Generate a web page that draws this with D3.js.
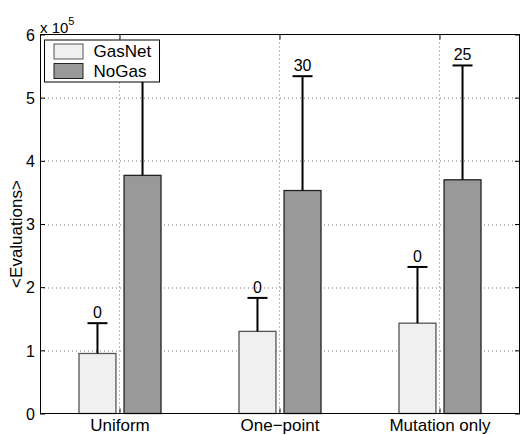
<!DOCTYPE html>
<html>
<head>
<meta charset="utf-8">
<script src="https://cdn.jsdelivr.net/npm/d3@7"></script>
<style>
  body { margin: 0; background: #fff; }
  text { font-family: "Liberation Sans", Arial, Helvetica, sans-serif; }
</style>
</head>
<body>
<div id="my_dataviz"></div>
<script>
// data (evaluations)
const categories = ["Uniform", "One\u2212point", "Mutation only"];
const series = ["GasNet", "NoGas"];
const gasnetMean = [95000, 130000, 143000];
const gasnetUpper = [143000, 183000, 232000];
const nogasMean = [377000, 353000, 370000];
const nogasUpper = [560000, 534000, 551000];
const gasnetLabels = ["0", "0", "0"];
const nogasLabels = [null, "30", "25"];
const yTicks = [0, 100000, 200000, 300000, 400000, 500000, 600000];

const margin = {top: 34.5, right: 0, bottom: 21.5, left: 40},
    width = 520 - margin.left - margin.right,
    height = 435 - margin.top - margin.bottom;

const svg = d3.select("#my_dataviz")
  .append("svg")
    .attr("width", 520)
    .attr("height", 435)
  .append("g")
    .attr("transform", `translate(${margin.left},${margin.top})`);

const x = d3.scaleBand()
  .domain(categories)
  .range([0, width])
  .padding(0);

const x1 = d3.scaleBand()
  .domain(series)
  .range([-41, 41])
  .paddingInner(0.18);

const y = d3.scaleLinear()
  .domain([0, 600000])
  .range([height, 0]);

const color = {GasNet: "#f0f0f0", NoGas: "#999999"};
const edge = {GasNet: "#555555", NoGas: "#222222"};

// build rows from the arrays
const rows = [];
categories.forEach(function(c, i) {
  rows.push({cat: c, s: "GasNet", mean: gasnetMean[i], upper: gasnetUpper[i], label: gasnetLabels[i]});
  rows.push({cat: c, s: "NoGas", mean: nogasMean[i], upper: nogasUpper[i], label: nogasLabels[i]});
});
const cx = d => x(d.cat) + x.bandwidth() / 2 + x1(d.s) + x1.bandwidth() / 2;

// grid
svg.append("g")
  .selectAll("line")
  .data(yTicks.slice(1, -1))
  .join("line")
    .attr("x1", 0).attr("x2", width)
    .attr("y1", d => Math.round(y(d)) + 0.5).attr("y2", d => Math.round(y(d)) + 0.5)
    .attr("stroke", "#777")
    .attr("stroke-dasharray", "1,3");
svg.append("g")
  .selectAll("line")
  .data(categories)
  .join("line")
    .attr("x1", d => Math.round(x(d) + x.bandwidth() / 2) - 0.5)
    .attr("x2", d => Math.round(x(d) + x.bandwidth() / 2) - 0.5)
    .attr("y1", 0).attr("y2", height)
    .attr("stroke", "#777")
    .attr("stroke-dasharray", "1,3");

// bars
svg.append("g")
  .selectAll("rect")
  .data(rows)
  .join("rect")
    .attr("x", d => x(d.cat) + x.bandwidth() / 2 + x1(d.s))
    .attr("y", d => y(d.mean))
    .attr("width", x1.bandwidth())
    .attr("height", d => height - y(d.mean))
    .attr("fill", d => color[d.s])
    .attr("stroke", d => edge[d.s])
    .attr("stroke-width", 1.3);

// error bars (upper only)
const err = svg.append("g");
err.selectAll("line.v")
  .data(rows)
  .join("line")
    .attr("class", "v")
    .attr("x1", cx).attr("x2", cx)
    .attr("y1", d => y(d.mean)).attr("y2", d => y(d.upper))
    .attr("stroke", "#000")
    .attr("stroke-width", 2);
err.selectAll("line.c")
  .data(rows)
  .join("line")
    .attr("class", "c")
    .attr("x1", d => cx(d) - 10).attr("x2", d => cx(d) + 10)
    .attr("y1", d => y(d.upper)).attr("y2", d => y(d.upper))
    .attr("stroke", "#000")
    .attr("stroke-width", 2);
err.selectAll("text")
  .data(rows.filter(d => d.label != null))
  .join("text")
    .attr("x", cx)
    .attr("y", d => y(d.upper) - 5)
    .attr("text-anchor", "middle")
    .style("font-size", "16px")
    .text(d => d.label);

// axes
svg.append("g")
  .call(d3.axisLeft(y).tickValues(yTicks).tickSize(-5).tickPadding(5)
    .tickFormat(d => d / 100000))
  .call(g => g.select(".domain").remove())
  .call(g => g.selectAll("text").style("font-size", "16px").attr("dy", "0.36em"));
svg.append("g")
  .attr("transform", `translate(${width},0)`)
  .call(d3.axisRight(y).tickValues(yTicks).tickSize(-5).tickFormat(""))
  .call(g => g.select(".domain").remove());
svg.append("g")
  .attr("transform", `translate(0,${height})`)
  .call(d3.axisBottom(x).tickSize(-5).tickPadding(5))
  .call(g => g.select(".domain").remove())
  .call(g => g.selectAll("text").style("font-size", "17px"));
svg.append("g")
  .call(d3.axisTop(x).tickSize(-5).tickFormat(""))
  .call(g => g.select(".domain").remove());

svg.append("rect")
  .attr("x", 0.5).attr("y", 0)
  .attr("width", width - 1).attr("height", height)
  .attr("fill", "none")
  .attr("stroke", "#000");

// exponent
const ex = svg.append("text")
  .attr("x", 0)
  .attr("y", -2)
  .style("font-size", "15px");
ex.append("tspan").text("x 10");
ex.append("tspan").attr("dy", -8).style("font-size", "11px").text("5");

// Y label
svg.append("text")
  .attr("text-anchor", "middle")
  .attr("transform", `translate(-18,${height / 2 + 10})rotate(-90)`)
  .style("font-size", "17px")
  .text("<Evaluations>");

// legend
const legend = svg.append("g").attr("transform", "translate(4.5,5.5)");
legend.append("rect")
  .attr("width", 115).attr("height", 42)
  .attr("fill", "#fff").attr("stroke", "#000");
series.forEach(function(s, i) {
  legend.append("rect")
    .attr("x", 9.5).attr("y", 4 + i * 19.5)
    .attr("width", 29).attr("height", 15)
    .attr("fill", color[s]).attr("stroke", edge[s]);
  legend.append("text")
    .attr("x", 49).attr("y", 17 + i * 19.5)
    .style("font-size", "17px")
    .text(s);
});
</script>
</body>
</html>
